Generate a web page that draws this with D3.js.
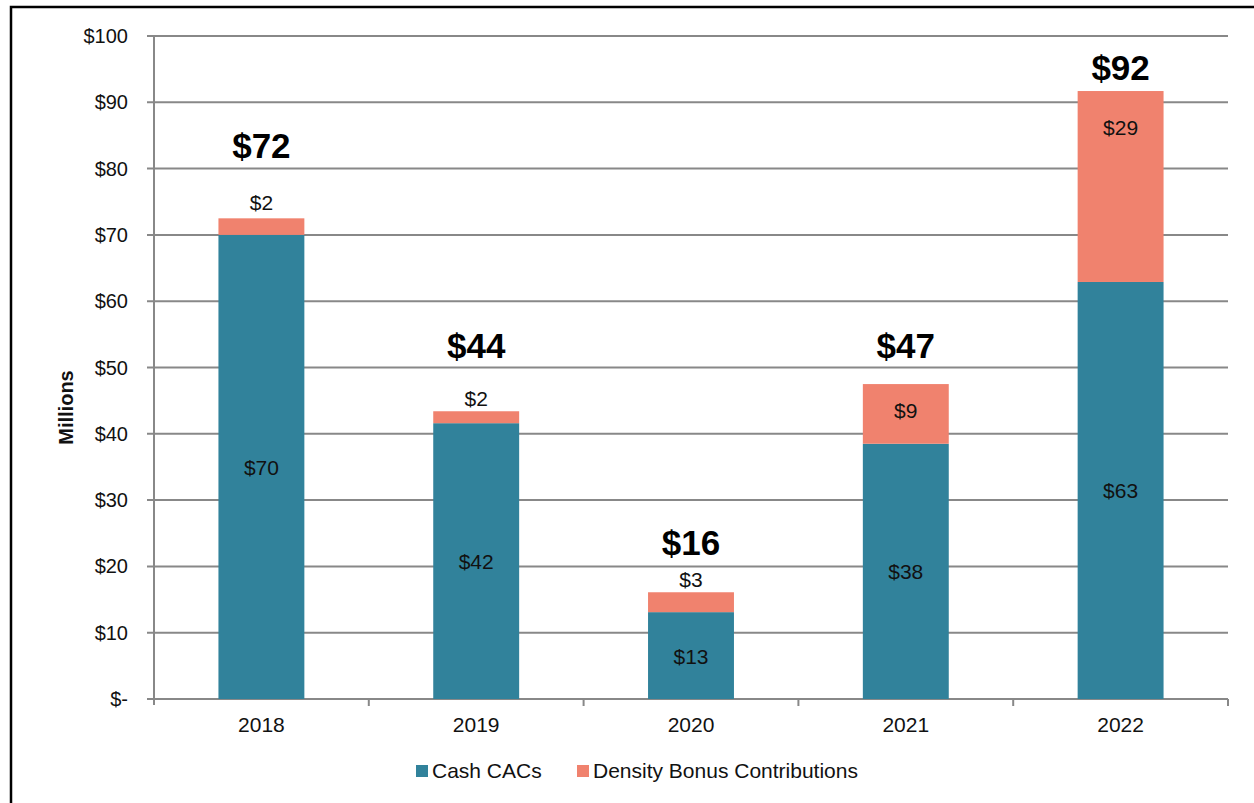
<!DOCTYPE html>
<html>
<head>
<meta charset="utf-8">
<script src="https://cdn.jsdelivr.net/npm/d3@7"></script>
<style>
  body { margin: 0; background: #fff; }
  svg { display: block; font-family: "Liberation Sans", Arial, sans-serif; }
</style>
</head>
<body>
<svg id="chart" width="1254" height="803"></svg>
<script>
// data
var years = ["2018", "2019", "2020", "2021", "2022"];
var cashCACs = [70, 41.6, 13.1, 38.5, 62.9];
var densityBonus = [2.5, 1.8, 3.0, 9.0, 28.8];
var cashLabels = ["$70", "$42", "$13", "$38", "$63"];
var densityLabels = ["$2", "$2", "$3", "$9", "$29"];
var totalLabels = ["$72", "$44", "$16", "$47", "$92"];
var yTicks = [0, 10, 20, 30, 40, 50, 60, 70, 80, 90, 100];
var seriesNames = ["Cash CACs", "Density Bonus Contributions"];
var colors = ["#31829b", "#f0826e"];

// hand placed label offsets from the bar top (px), as in the original
var totalLift = [60, 53, 37, 26, 11];
var densityDy = [-8, -5, -5, 34, 44];

var svg = d3.select("#chart");
var margin = {left: 154, right: 26, top: 36, bottom: 104};
var W = 1254, H = 803;

// outer frame
svg.append("rect")
    .attr("x", 11).attr("y", 7)
    .attr("width", 1250).attr("height", 800)
    .attr("fill", "none").attr("stroke", "#000").attr("stroke-width", 2.5);

var x = d3.scaleBand()
    .domain(years)
    .range([margin.left, W - margin.right])
    .paddingInner(0.6).paddingOuter(0.3);

var y = d3.scaleLinear()
    .domain([0, 100])
    .range([H - margin.bottom, margin.top]);

// gridlines
svg.append("g")
    .selectAll("line")
    .data(yTicks)
    .enter()
    .append("line")
    .attr("x1", margin.left - 7)
    .attr("x2", W - margin.right)
    .attr("y1", function (d) { return y(d); })
    .attr("y2", function (d) { return y(d); })
    .attr("stroke", "#888")
    .attr("stroke-width", 2);

// y axis labels
svg.append("g")
    .selectAll("text")
    .data(yTicks)
    .enter()
    .append("text")
    .attr("x", margin.left - 26)
    .attr("y", function (d) { return y(d) + 7; })
    .attr("text-anchor", "end")
    .attr("font-size", 20)
    .attr("fill", "#111")
    .text(function (d) { return d === 0 ? "$-" : "$" + d; });

// y axis line
svg.append("line")
    .attr("x1", margin.left).attr("x2", margin.left)
    .attr("y1", y(100)).attr("y2", y(0) + 6)
    .attr("stroke", "#888").attr("stroke-width", 2);

// x ticks at category boundaries
var step = x.step();
var bounds = years.map(function (d) { return x(d) + x.bandwidth() / 2 + step / 2; });
svg.append("g")
    .selectAll("line")
    .data(bounds)
    .enter()
    .append("line")
    .attr("x1", function (d) { return d; })
    .attr("x2", function (d) { return d; })
    .attr("y1", y(0)).attr("y2", y(0) + 7)
    .attr("stroke", "#888").attr("stroke-width", 2);

// x labels
svg.append("g")
    .selectAll("text")
    .data(years)
    .enter()
    .append("text")
    .attr("x", function (d) { return x(d) + x.bandwidth() / 2; })
    .attr("y", y(0) + 33)
    .attr("text-anchor", "middle")
    .attr("font-size", 21)
    .attr("fill", "#111")
    .text(function (d) { return d; });

// axis title
svg.append("text")
    .attr("transform", "translate(73," + (y(50) + 40) + ") rotate(-90)")
    .attr("text-anchor", "middle")
    .attr("font-size", 20)
    .attr("font-weight", "bold")
    .attr("fill", "#111")
    .text("Millions");

// bars
var rows = years.map(function (d, i) {
    return {year: d, cash: cashCACs[i], density: densityBonus[i]};
});
var stack = d3.stack().keys(["cash", "density"]);
var layers = stack(rows);

svg.append("g")
    .selectAll("g")
    .data(layers)
    .enter()
    .append("g")
    .attr("fill", function (d, i) { return colors[i]; })
    .selectAll("rect")
    .data(function (d) { return d; })
    .enter()
    .append("rect")
    .attr("x", function (d) { return x(d.data.year); })
    .attr("width", x.bandwidth())
    .attr("y", function (d) { return y(d[1]); })
    .attr("height", function (d) { return y(d[0]) - y(d[1]); });

// segment labels
var cashLayer = layers[0], densLayer = layers[1];
svg.append("g")
    .selectAll("text")
    .data(cashLayer)
    .enter()
    .append("text")
    .attr("x", function (d) { return x(d.data.year) + x.bandwidth() / 2; })
    .attr("y", function (d) { return (y(d[0]) + y(d[1])) / 2 + 8; })
    .attr("text-anchor", "middle")
    .attr("font-size", 21)
    .attr("fill", "#111")
    .text(function (d, i) { return cashLabels[i]; });

svg.append("g")
    .selectAll("text")
    .data(densLayer)
    .enter()
    .append("text")
    .attr("x", function (d) { return x(d.data.year) + x.bandwidth() / 2; })
    .attr("y", function (d, i) { return y(d[1]) + densityDy[i]; })
    .attr("text-anchor", "middle")
    .attr("font-size", 21)
    .attr("fill", "#111")
    .text(function (d, i) { return densityLabels[i]; });

// totals
svg.append("g")
    .selectAll("text")
    .data(densLayer)
    .enter()
    .append("text")
    .attr("x", function (d) { return x(d.data.year) + x.bandwidth() / 2; })
    .attr("y", function (d, i) { return y(d[1]) - totalLift[i]; })
    .attr("text-anchor", "middle")
    .attr("font-size", 35)
    .attr("font-weight", "bold")
    .attr("fill", "#000")
    .text(function (d, i) { return totalLabels[i]; });

// legend
var legend = svg.append("g").attr("transform", "translate(416,778)");
var lx = [0, 161];
seriesNames.forEach(function (name, i) {
    var g = legend.append("g").attr("transform", "translate(" + lx[i] + ",0)");
    g.append("rect")
        .attr("x", 0).attr("y", -13)
        .attr("width", 12).attr("height", 12)
        .attr("fill", colors[i]);
    g.append("text")
        .attr("x", 16).attr("y", 0)
        .attr("font-size", 21)
        .attr("fill", "#111")
        .text(name);
});
</script>
</body>
</html>
